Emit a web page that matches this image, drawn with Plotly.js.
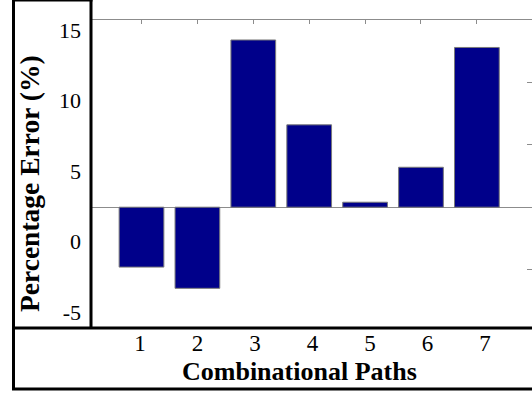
<!DOCTYPE html>
<html>
<head>
<meta charset="utf-8">
<script src="https://cdn.plot.ly/plotly-3.0.1.min.js"></script>
<style>
  html, body { margin: 0; padding: 0; background: #fff; }
  #chart { width: 532px; height: 397px; }
</style>
</head>
<body>
<div id="chart"></div>
<script>
// Percentage error for each combinational path
const paths = [1, 2, 3, 4, 5, 6, 7];
const pctError = [-4.8, -6.5, 13.4, 6.6, 0.4, 3.2, 12.8];

// Tick labels shown in the frame cells
const yTickVals = [-5, 0, 5, 10, 15];
const yTickText = ['-5', '0', '5', '10', '15'];
const xTickVals = [1, 2, 3, 4, 5, 6, 7];
const xTickText = ['1', '2', '3', '4', '5', '6', '7'];

const W = 532, H = 397;
const px = v => v / W;          // pixel -> paper x
const py = v => 1 - v / H;      // pixel -> paper y

const serif = '"Liberation Serif", "Times New Roman", Times, serif';
const grey = '#8c8c8c';

const bars = {
  type: 'bar',
  x: paths,
  y: pctError,
  width: 0.8,
  marker: { color: 'rgb(0,0,138)', line: { color: '#7a7a7a', width: 1 } },
  xaxis: 'x', yaxis: 'y',
  hoverinfo: 'x+y'
};

const layout = {
  width: W, height: H,
  margin: { l: 0, r: 0, t: 0, b: 0 },
  paper_bgcolor: '#fff', plot_bgcolor: '#fff',
  showlegend: false,
  font: { family: serif, color: '#000' },
  // plotting box
  xaxis: {
    domain: [px(92), 1],
    range: [0.1145, 7.986],
    side: 'top', anchor: 'y',
    showline: true, linecolor: grey, linewidth: 1,
    ticks: 'inside', ticklen: 4, tickcolor: grey, tickwidth: 1,
    tickvals: xTickVals, showticklabels: false,
    showgrid: false, zeroline: false, fixedrange: true
  },
  yaxis: {
    domain: [py(328), py(20)],
    range: [15 - 308 / 12.48, 15],
    side: 'right', anchor: 'x',
    showline: false,
    ticks: 'inside', ticklen: 5, tickcolor: grey, tickwidth: 1,
    tickvals: yTickVals, showticklabels: false,
    showgrid: false,
    zeroline: true, zerolinecolor: grey, zerolinewidth: 1,
    fixedrange: true
  },
  // label axes for the bottom row and left column cells
  xaxis2: {
    overlaying: 'x', anchor: 'free', position: py(327), side: 'bottom',
    range: [0.167, 7.818],
    tickvals: xTickVals, ticktext: xTickText,
    ticks: '', showline: false, showgrid: false, zeroline: false,
    tickfont: { family: serif, size: 23, color: '#000' },
    fixedrange: true
  },
  yaxis2: {
    overlaying: 'y', anchor: 'free', position: px(81), side: 'left',
    range: [-6.135, 15.709],
    tickvals: yTickVals, ticktext: yTickText,
    ticks: '', showline: false, showgrid: false, zeroline: false,
    tickfont: { family: serif, size: 22, color: '#000' },
    fixedrange: true
  },
  annotations: [
    {
      text: '<b>Combinational Paths</b>', showarrow: false,
      xref: 'paper', yref: 'paper', x: px(299), y: py(371),
      xanchor: 'center', yanchor: 'middle',
      font: { family: serif, size: 26, color: '#000' }
    },
    {
      text: '<b>Percentage Error (%)</b>', showarrow: false, textangle: -90,
      xref: 'paper', yref: 'paper', x: px(29), y: py(184),
      xanchor: 'center', yanchor: 'middle',
      font: { family: serif, size: 27.5, color: '#000' }
    }
  ],
  // table-style frame around the label cells
  shapes: [
    { type: 'line', xref: 'paper', yref: 'paper', x0: px(13.5), x1: px(13.5), y0: py(0), y1: py(389), line: { color: '#000', width: 3 } },
    { type: 'line', xref: 'paper', yref: 'paper', x0: px(91), x1: px(91), y0: py(0), y1: py(328), line: { color: '#000', width: 3 } },
    { type: 'line', xref: 'paper', yref: 'paper', x0: px(12), x1: px(92.5), y0: py(0.5), y1: py(0.5), line: { color: '#000', width: 2 } },
    { type: 'line', xref: 'paper', yref: 'paper', x0: px(12), x1: 1, y0: py(328), y1: py(328), line: { color: '#000', width: 3 } },
    { type: 'line', xref: 'paper', yref: 'paper', x0: px(12), x1: 1, y0: py(389), y1: py(389), line: { color: '#000', width: 3 } }
  ]
};

// an empty trace on the label axes so they are drawn
const labelAxesTrace = {
  type: 'scatter', x: [], y: [], xaxis: 'x2', yaxis: 'y2',
  hoverinfo: 'skip', showlegend: false
};

Plotly.newPlot('chart', [bars, labelAxesTrace], layout, { displayModeBar: false, staticPlot: true });
</script>
</body>
</html>
